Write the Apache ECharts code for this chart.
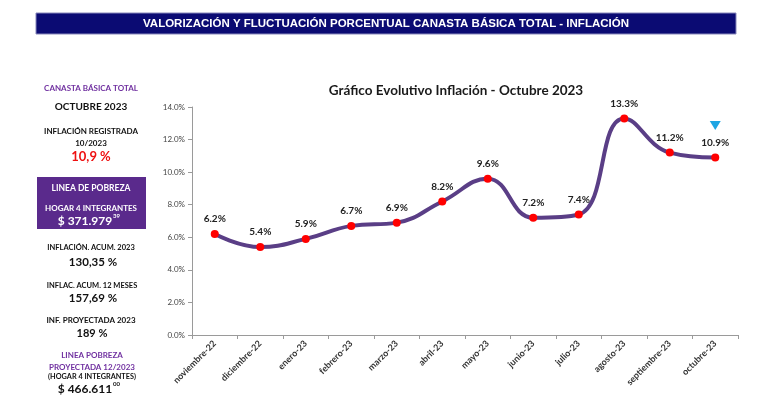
<!DOCTYPE html>
<html><head><meta charset="utf-8">
<script src="https://cdn.jsdelivr.net/npm/echarts@6/dist/echarts.min.js"></script>
<style>html,body{margin:0;padding:0;background:#fff}#c{width:767px;height:403px}</style>
</head><body><div id="c"></div>
<script>
const categories = ['noviembre-22','diciembre-22','enero-23','febrero-23','marzo-23','abril-23','mayo-23','junio-23','julio-23','agosto-23','septiembre-23','octubre-23'];
const inflation = [6.2, 5.4, 5.9, 6.7, 6.9, 8.2, 9.6, 7.2, 7.4, 13.3, 11.2, 10.9];
const yTicks = {min: 0, max: 14, interval: 2};
const headerTitle = 'VALORIZACIÓN Y FLUCTUACIÓN PORCENTUAL CANASTA BÁSICA TOTAL - INFLACIÓN';
const chartTitle = 'Gráfico Evolutivo Inflación - Octubre 2023';

const F = 'Lato, "Open Sans", sans-serif';
function t(text, y, size, color, x) {
  return {type: 'text', x: x || 91, y: y, style: {text: text, font: 'bold ' + size + 'px ' + F, fill: color, textAlign: 'center', textVerticalAlign: 'middle'}};
}
function sup(text, x, y, color) {
  return {type: 'text', x: x, y: y, style: {text: text, font: 'bold 6px ' + F, fill: color, textAlign: 'left', textVerticalAlign: 'middle'}};
}
const chart = echarts.init(document.getElementById('c'), null, {renderer: 'canvas'});
chart.setOption({
  animation: false,
  title: {text: chartTitle, left: 451, top: 79, textAlign: 'center',
    textStyle: {fontFamily: F, fontWeight: 'bold', fontSize: 13.5, color: '#1a1a1a'}},
  grid: {left: 192, right: 29, top: 107, bottom: 68},
  xAxis: {type: 'category', data: categories, boundaryGap: true,
    axisLine: {lineStyle: {color: '#9a9a9a'}},
    axisTick: {show: true, length: 4, lineStyle: {color: '#9a9a9a'}},
    axisLabel: {rotate: 45, fontFamily: F, fontWeight: 'bold', fontSize: 9, color: '#333', margin: 7}},
  yAxis: {type: 'value', min: yTicks.min, max: yTicks.max, interval: yTicks.interval,
    axisLine: {show: true, lineStyle: {color: '#9a9a9a'}},
    axisTick: {show: true, length: 4, lineStyle: {color: '#9a9a9a'}},
    splitLine: {show: false},
    axisLabel: {formatter: v => v.toFixed(1) + '%', fontFamily: F, fontSize: 8, color: '#444', margin: 7}},
  series: [{
    type: 'line', data: inflation, smooth: 0.45,
    lineStyle: {color: '#5a3e86', width: 4},
    symbol: 'circle', symbolSize: 8,
    itemStyle: {color: '#ff0000', borderWidth: 0},
    label: {show: true, position: 'top', distance: 6, formatter: p => p.value.toFixed(1) + '%',
      fontFamily: F, fontWeight: 'bold', fontSize: 10, color: '#222'},
    markPoint: {
      data: [{coord: [categories.length - 1, inflation[inflation.length - 1]]}],
      symbol: 'triangle', symbolRotate: 180, symbolSize: [11, 9], symbolOffset: [0, -32],
      itemStyle: {color: '#1ea5e3'}, label: {show: false}, silent: true
    }
  }],
  graphic: [
    {type: 'rect', shape: {x: 36, y: 13, width: 700, height: 21}, style: {fill: '#0b0b73', stroke: '#8888bb', lineWidth: 1}},
    {type: 'text', x: 386, y: 24, style: {text: headerTitle, font: '900 11.5px "Liberation Sans", Arial, sans-serif', fill: '#fff', textAlign: 'center', textVerticalAlign: 'middle'}},
    t('CANASTA BÁSICA TOTAL', 88, 8, '#7030a0'),
    t('OCTUBRE 2023', 107, 10, '#111'),
    t('INFLACIÓN REGISTRADA', 131, 8, '#111'),
    t('10/2023', 143, 8, '#111'),
    t('10,9 %', 157, 13, '#ee1111'),
    {type: 'rect', shape: {x: 37, y: 177, width: 109, height: 52}, style: {fill: '#5a2a8c'}},
    t('LINEA DE POBREZA', 188, 8.5, '#fff'),
    t('HOGAR 4 INTEGRANTES', 208, 8, '#fff'),
    t('$ 371.979', 221, 12, '#fff', 85),
    sup('39', 113, 216, '#fff'),
    t('INFLACIÓN. ACUM. 2023', 248, 7.5, '#111'),
    t('130,35 %', 262, 11.5, '#111', 93),
    t('INFLAC. ACUM. 12 MESES', 286, 7.5, '#111', 92),
    t('157,69 %', 298, 11.5, '#111', 93),
    t('INF. PROYECTADA 2023', 320, 8, '#111'),
    t('189 %', 333, 11, '#111', 92),
    t('LINEA POBREZA', 355, 8, '#7030a0', 92),
    t('PROYECTADA 12/2023', 367, 8, '#7030a0', 92),
    t('(HOGAR 4 INTEGRANTES)', 377, 7.3, '#111', 92),
    t('$ 466.611', 389, 12, '#111', 85),
    sup('00', 113, 384, '#111')
  ]
});
</script></body></html>
